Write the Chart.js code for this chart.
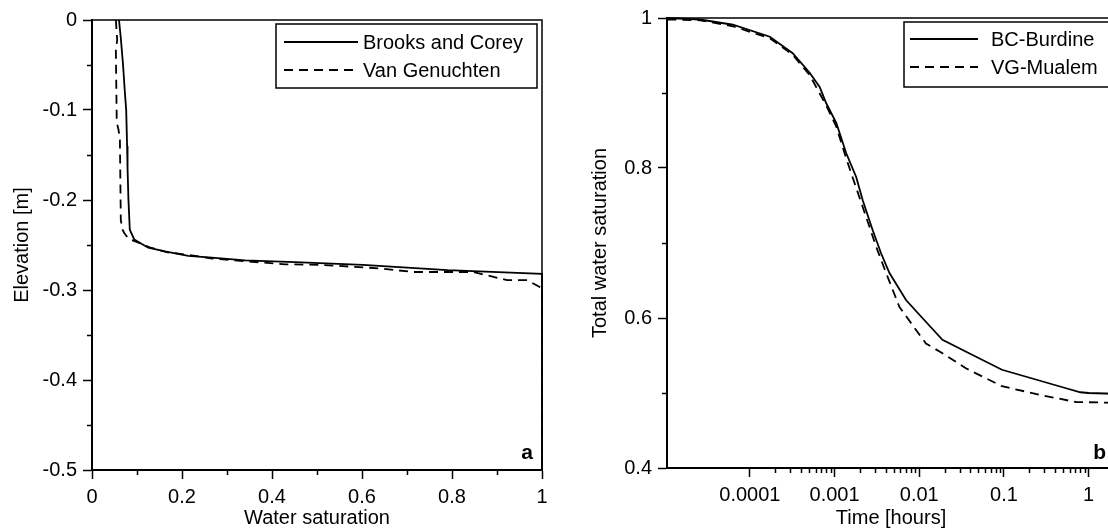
<!DOCTYPE html>
<html>
<head>
<meta charset="utf-8">
<script src="https://cdn.jsdelivr.net/npm/chart.js@4.4.1/dist/chart.umd.min.js"></script>
<style>
  html, body { margin: 0; padding: 0; background: #fff; overflow: hidden; width: 1108px; height: 531px; }
  #chartA { position: absolute; left: 0; top: 0; }
  #chartB { position: absolute; left: 570px; top: 0; }
</style>
</head>
<body>
<canvas id="chartA" width="560" height="531"></canvas>
<canvas id="chartB" width="560" height="531"></canvas>
<script>
// panel a: saturation profile vs elevation
const bcSat  = [0.060, 0.064, 0.069, 0.073, 0.076, 0.078, 0.079, 0.081, 0.084, 0.094, 0.125, 0.162, 0.214, 0.266, 0.340, 0.451, 0.602, 0.790, 1.000, 1.000];
const bcElev = [0, -0.020, -0.050, -0.080, -0.100, -0.140, -0.165, -0.200, -0.233, -0.244, -0.253, -0.257, -0.262, -0.264, -0.267, -0.269, -0.272, -0.278, -0.282, -0.500];
const vgSat  = [0.053, 0.056, 0.053, 0.055, 0.059, 0.062, 0.064, 0.068, 0.072, 0.081, 0.096, 0.128, 0.166, 0.214, 0.267, 0.340, 0.429, 0.507, 0.640, 0.713, 0.847, 0.922, 0.967, 1.000, 1.000];
const vgElev = [0, -0.022, -0.033, -0.114, -0.122, -0.133, -0.222, -0.233, -0.237, -0.243, -0.246, -0.2525, -0.258, -0.261, -0.265, -0.268, -0.2715, -0.272, -0.276, -0.280, -0.280, -0.289, -0.289, -0.298, -0.500];

const satTicks = [0, 0.2, 0.4, 0.6, 0.8, 1];
const satTickLabels = ['0', '0.2', '0.4', '0.6', '0.8', '1'];
const satMinor = [0.1, 0.3, 0.5, 0.7, 0.9];
const elevTicks = [0, -0.1, -0.2, -0.3, -0.4, -0.5];
const elevTickLabels = ['0', '-0.1', '-0.2', '-0.3', '-0.4', '-0.5'];
const elevMinor = [-0.05, -0.15, -0.25, -0.35, -0.45];

// panel b: total water saturation vs time
const bcTime = [1.06e-5, 2.58e-5, 6.3e-5, 1.72e-4, 3.2e-4, 5.08e-4, 6.67e-4, 8.0e-4, 1.05e-3, 1.37e-3, 1.80e-3, 2.15e-3, 2.82e-3, 3.55e-3, 4.45e-3, 6.98e-3, 0.0109, 0.0188, 0.0388, 0.0948, 0.482, 0.80, 1.0, 1.97];
const bcSw   = [1.000, 0.998, 0.991, 0.975, 0.953, 0.927, 0.908, 0.886, 0.860, 0.820, 0.788, 0.757, 0.717, 0.686, 0.660, 0.624, 0.600, 0.571, 0.553, 0.531, 0.508, 0.501, 0.500, 0.499];
const vgTime = [1.06e-5, 2.58e-5, 6.3e-5, 1.72e-4, 3.2e-4, 5.08e-4, 8.0e-4, 1.05e-3, 1.37e-3, 2.15e-3, 3.1e-3, 4.06e-3, 5.82e-3, 9.17e-3, 0.0120, 0.0188, 0.0355, 0.0948, 0.281, 0.705, 1.97];
const vgSw   = [0.998, 0.997, 0.989, 0.973, 0.951, 0.924, 0.883, 0.855, 0.813, 0.748, 0.695, 0.660, 0.615, 0.584, 0.566, 0.553, 0.533, 0.509, 0.497, 0.488, 0.487];

const timeTicks = [0.0001, 0.001, 0.01, 0.1, 1];
const timeTickLabels = ['0.0001', '0.001', '0.01', '0.1', '1'];
const swTicks = [0.4, 0.6, 0.8, 1];
const swTickLabels = ['0.4', '0.6', '0.8', '1'];
const swMinor = [0.5, 0.7, 0.9];

const timeMinor = [];
for (let dec = 0.0001; dec < 1; dec *= 10) {
  for (let k = 2; k <= 9; k++) timeMinor.push(k * dec);
}

Chart.defaults.font.family = "'Liberation Sans', Arial, sans-serif";
Chart.defaults.font.size = 20;
Chart.defaults.color = '#000';

const toPoints = (xs, ys) => xs.map((x, i) => ({ x: x, y: ys[i] }));

// top and right edges of the frame, minor ticks, inner legend, panel letter
const framePlugin = {
  id: 'frame',
  afterDraw(chart, args, opts) {
    const ctx = chart.ctx;
    const a = chart.chartArea;
    ctx.save();
    ctx.strokeStyle = '#000';
    ctx.setLineDash([]);

    ctx.lineWidth = 1.5;
    ctx.beginPath();
    ctx.moveTo(a.left, a.top);
    ctx.lineTo(a.right, a.top);
    ctx.lineTo(a.right, a.bottom);
    ctx.stroke();

    // minor ticks
    ctx.lineWidth = 1.5;
    const xs = chart.scales.x, ys = chart.scales.y;
    ctx.beginPath();
    opts.xMinor.forEach(v => {
      const px = Math.round(xs.getPixelForValue(v)) + 0.5;
      ctx.moveTo(px, a.bottom);
      ctx.lineTo(px, a.bottom + 5);
    });
    opts.yMinor.forEach(v => {
      const py = Math.round(ys.getPixelForValue(v)) + 0.5;
      ctx.moveTo(a.left, py);
      ctx.lineTo(a.left - 5, py);
    });
    ctx.stroke();

    // legend box
    const L = opts.legend;
    const bx = a.right - 5 - L.width;
    const by = a.top + 4;
    ctx.lineWidth = 1.5;
    ctx.strokeRect(bx, by, L.width, L.height);
    ctx.font = "20px 'Liberation Sans', Arial, sans-serif";
    ctx.fillStyle = '#000';
    ctx.textBaseline = 'middle';
    ctx.textAlign = 'left';
    chart.data.datasets.forEach((ds, i) => {
      const ry = by + L.rows[i];
      ctx.lineWidth = ds.borderWidth;
      ctx.setLineDash(ds.borderDash || []);
      ctx.beginPath();
      ctx.moveTo(bx + L.line[0], ry);
      ctx.lineTo(bx + L.line[1], ry);
      ctx.stroke();
      ctx.setLineDash([]);
      ctx.fillText(ds.label, bx + L.text, ry + 1);
    });

    // panel letter
    ctx.font = "bold 21px 'Liberation Sans', Arial, sans-serif";
    ctx.textAlign = 'right';
    ctx.textBaseline = 'alphabetic';
    ctx.fillText(opts.letter, a.right - 9, a.bottom - opts.letterOffset);
    ctx.restore();
  }
};

function axisCommon() {
  return {
    grid: { display: true, drawOnChartArea: false, drawTicks: true, tickLength: 9, tickColor: '#000', tickWidth: 1.5 },
    border: { display: true, color: '#000', width: 2 },
  };
}

const lineStyle = {
  showLine: true,
  pointRadius: 0,
  borderColor: '#000',
  backgroundColor: '#000',
  borderWidth: 1.8,
  tension: 0,
  clip: false,
};

new Chart(document.getElementById('chartA'), {
  type: 'scatter',
  data: {
    datasets: [
      Object.assign({ label: 'Brooks and Corey', data: toPoints(bcSat, bcElev) }, lineStyle),
      Object.assign({ label: 'Van Genuchten', data: toPoints(vgSat, vgElev), borderDash: [9, 6] }, lineStyle),
    ],
  },
  options: {
    responsive: false,
    animation: false,
    layout: { padding: { top: 20, right: 18, left: 0, bottom: 0 } },
    plugins: {
      legend: { display: false },
      tooltip: { enabled: false },
      frame: {
        xMinor: satMinor, yMinor: elevMinor,
        legend: { width: 261, height: 64, line: [8, 82], text: 87, rows: [18, 46] },
        letter: 'a', letterOffset: 11,
      },
    },
    scales: {
      x: Object.assign(axisCommon(), {
        type: 'linear', position: 'bottom', min: 0, max: 1,
        afterBuildTicks: s => { s.ticks = satTicks.map(v => ({ value: v })); },
        afterFit: s => { s.height = 61; },
        ticks: { autoSkip: false, maxRotation: 0, padding: 6, callback: (v, i) => satTickLabels[i] },
        title: { display: true, text: 'Water saturation', padding: { top: 0, bottom: 1 } },
      }),
      y: Object.assign(axisCommon(), {
        type: 'linear', position: 'left', min: -0.5, max: 0,
        afterBuildTicks: s => { s.ticks = elevTicks.map(v => ({ value: v })); },
        afterFit: s => { s.width = 92; },
        ticks: { autoSkip: false, padding: 6, callback: (v, i) => elevTickLabels[i] },
        title: { display: true, text: 'Elevation [m]', padding: { top: 10, bottom: 0 } },
      }),
    },
  },
  plugins: [framePlugin],
});

new Chart(document.getElementById('chartB'), {
  type: 'scatter',
  data: {
    datasets: [
      Object.assign({ label: 'BC-Burdine', data: toPoints(bcTime, bcSw) }, lineStyle),
      Object.assign({ label: 'VG-Mualem', data: toPoints(vgTime, vgSw), borderDash: [9, 6] }, lineStyle),
    ],
  },
  options: {
    responsive: false,
    animation: false,
    layout: { padding: { top: 18, right: 15, left: 0, bottom: 0 } },
    plugins: {
      legend: { display: false },
      tooltip: { enabled: false },
      frame: {
        xMinor: timeMinor, yMinor: swMinor,
        legend: { width: 206, height: 65, line: [6, 74], text: 87, rows: [17, 45] },
        letter: 'b', letterOffset: 9,
      },
    },
    scales: {
      x: Object.assign(axisCommon(), {
        type: 'logarithmic', position: 'bottom', min: 1.05e-5, max: 2.05,
        afterBuildTicks: s => { s.ticks = timeTicks.map(v => ({ value: v })); },
        afterFit: s => { s.height = 63; },
        ticks: { autoSkip: false, maxRotation: 0, padding: 6, callback: (v, i) => timeTickLabels[i] },
        title: { display: true, text: 'Time [hours]', padding: { top: 0, bottom: 1 } },
      }),
      y: Object.assign(axisCommon(), {
        type: 'linear', position: 'left', min: 0.4, max: 1,
        afterBuildTicks: s => { s.ticks = swTicks.map(v => ({ value: v })); },
        afterFit: s => { s.width = 97; },
        ticks: { autoSkip: false, padding: 6, callback: (v, i) => swTickLabels[i] },
        title: { display: true, text: 'Total water saturation', padding: { top: 18, bottom: 0 } },
      }),
    },
  },
  plugins: [framePlugin],
});
</script>
</body>
</html>
